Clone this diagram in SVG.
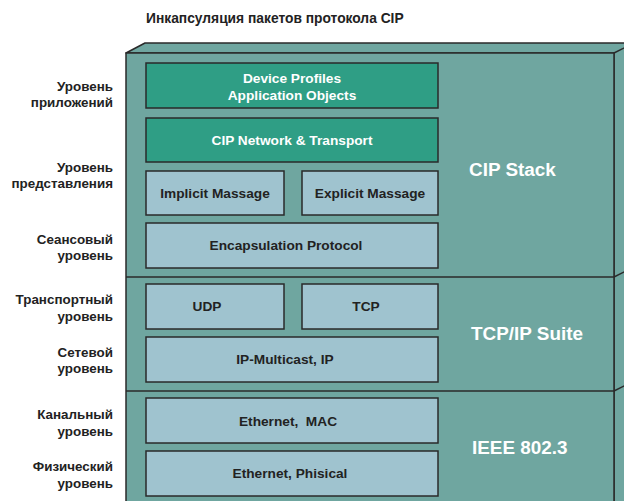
<svg xmlns="http://www.w3.org/2000/svg" width="624" height="501" viewBox="0 0 624 501">
  <style>
    .lbl { font-family: "Liberation Sans", Arial, sans-serif; font-weight: bold; font-size: 13.4px; fill: #222; text-anchor: end; }
    .title { font-family: "Liberation Sans", Arial, sans-serif; font-weight: bold; font-size: 13.8px; fill: #222; }
    .btxt { font-family: "Liberation Sans", Arial, sans-serif; font-weight: bold; font-size: 13.7px; fill: #222; text-anchor: middle; }
    .wtxt { font-family: "Liberation Sans", Arial, sans-serif; font-weight: bold; font-size: 13.7px; fill: #fff; text-anchor: middle; }
    .stack { font-family: "Liberation Sans", Arial, sans-serif; font-weight: bold; font-size: 18.9px; fill: #fff; }
    .face { fill: #6fa6a0; stroke: #2a2a2a; stroke-width: 1.5; stroke-linejoin: round; }
    .sep { stroke: #2a2a2a; stroke-width: 1.5; fill: none; }
    .green { fill: #2f9e85; stroke: #2a2a2a; stroke-width: 1.5; }
    .blue { fill: #9fc3cf; stroke: #2a2a2a; stroke-width: 1.5; }
  </style>

  <rect width="624" height="501" fill="#fff"/>

  <text class="title" x="146" y="23">Инкапсуляция пакетов протокола CIP</text>

  <!-- 3D container box -->
  <g id="container">
    <polygon class="face" points="126,53 145,43 630,43 630,53"/>
    <polygon class="face" points="614,53 630,45 630,510 614,510"/>
    <rect class="face" x="126" y="53" width="488" height="460"/>
    <line class="sep" x1="126" y1="277" x2="614" y2="277"/>
    <line class="sep" x1="614" y1="277" x2="630" y2="269"/>
    <line class="sep" x1="126" y1="391" x2="614" y2="391"/>
    <line class="sep" x1="614" y1="391" x2="630" y2="383"/>
  </g>

  <!-- OSI layer labels -->
  <g id="layer-labels">
    <text class="lbl" x="113" y="91">Уровень</text>
    <text class="lbl" x="113" y="107">приложений</text>
    <text class="lbl" x="113" y="172">Уровень</text>
    <text class="lbl" x="113" y="188">представления</text>
    <text class="lbl" x="113" y="244">Сеансовый</text>
    <text class="lbl" x="113" y="260">уровень</text>
    <text class="lbl" x="113" y="304">Транспортный</text>
    <text class="lbl" x="113" y="321">уровень</text>
    <text class="lbl" x="113" y="357">Сетевой</text>
    <text class="lbl" x="113" y="373">уровень</text>
    <text class="lbl" x="113" y="419">Канальный</text>
    <text class="lbl" x="113" y="436">уровень</text>
    <text class="lbl" x="113" y="471">Физический</text>
    <text class="lbl" x="113" y="488">уровень</text>
  </g>

  <!-- Stack names -->
  <g id="stack-names">
    <text class="stack" x="469" y="176">CIP Stack</text>
    <text class="stack" x="471" y="340">TCP/IP Suite</text>
    <text class="stack" x="472" y="454">IEEE 802.3</text>
  </g>

  <g id="device-profiles">
    <rect class="green" x="146" y="63" width="292" height="45"/>
    <text class="wtxt" x="292" y="83">Device Profiles</text>
    <text class="wtxt" x="292" y="100">Application Objects</text>
  </g>
  <g id="cip-network">
    <rect class="green" x="146" y="118" width="292" height="44"/>
    <text class="wtxt" x="292" y="145">CIP Network &amp; Transport</text>
  </g>
  <g id="implicit">
    <rect class="blue" x="146" y="171" width="138" height="44"/>
    <text class="btxt" x="215" y="198">Implicit Massage</text>
  </g>
  <g id="explicit">
    <rect class="blue" x="302" y="171" width="136" height="44"/>
    <text class="btxt" x="370" y="198">Explicit Massage</text>
  </g>
  <g id="encapsulation">
    <rect class="blue" x="146" y="223" width="292" height="45"/>
    <text class="btxt" x="286" y="250">Encapsulation Protocol</text>
  </g>
  <g id="udp">
    <rect class="blue" x="146" y="284" width="138" height="45"/>
    <text class="btxt" x="207" y="311">UDP</text>
  </g>
  <g id="tcp">
    <rect class="blue" x="302" y="284" width="136" height="45"/>
    <text class="btxt" x="366" y="311">TCP</text>
  </g>
  <g id="ip">
    <rect class="blue" x="146" y="337" width="292" height="45"/>
    <text class="btxt" x="285" y="364">IP-Multicast, IP</text>
  </g>
  <g id="ethernet-mac">
    <rect class="blue" x="146" y="398" width="292" height="45"/>
    <text class="btxt" x="288" y="426" xml:space="preserve">Ethernet,  MAC</text>
  </g>
  <g id="ethernet-phy">
    <rect class="blue" x="146" y="451" width="292" height="45"/>
    <text class="btxt" x="290" y="478">Ethernet, Phisical</text>
  </g>

  <g id="connectors"/>
</svg>
